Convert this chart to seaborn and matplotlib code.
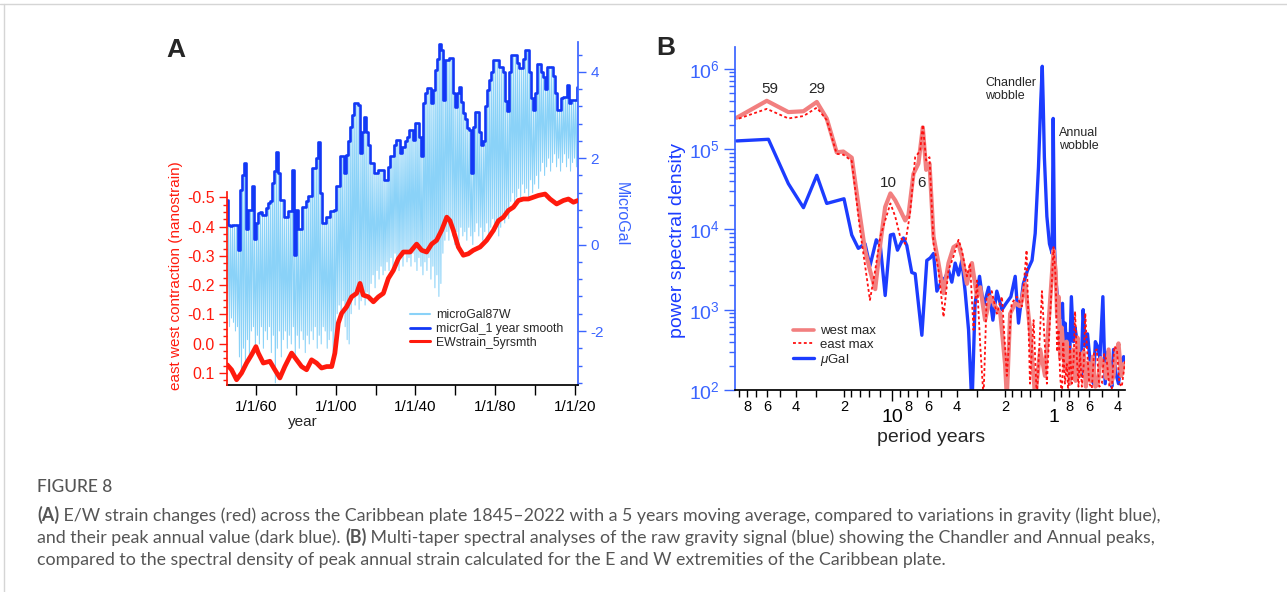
import numpy as np
import matplotlib
matplotlib.use("Agg")
import matplotlib.pyplot as plt
import seaborn as sns
from matplotlib.lines import Line2D
from matplotlib.ticker import FixedLocator, LogLocator, NullFormatter

# ---------------- Panel A data ----------------
gal_years = list(range(1845, 2022))
# annual peak gravity (microGal), dark blue step curve
gal_peak = [
    1.04, 0.45, 0.42, 0.45, 0.46, 0.46, -0.12, 1.27, 1.6, 1.88,
    0.35, 0.81, 0.81, 1.35, 0.12, 0.5, 0.73, 0.75, 0.69, 0.69,
    0.85, 0.96, 1.0, 1.42, 1.7, 2.15, 1.65, 1.04, 1.04, 0.65,
    0.65, 0.77, 0.77, 1.73, -0.23, 0.81, 0.35, 0.35, 0.88, 0.88,
    1.0, 1.12, 1.12, 1.77, 1.77, 2.0, 2.38, 1.19, 0.5, 0.5,
    0.65, 0.65, 0.77, 0.77, 0.81, 1.35, 1.35, 2.04, 2.04, 1.65,
    2.08, 2.4, 2.73, 3.0, 3.27, 3.27, 3.23, 2.12, 2.6, 2.96,
    2.6, 2.31, 1.9, 1.88, 1.65, 1.65, 1.73, 1.73, 1.73, 1.5,
    1.5, 1.8, 2.04, 2.04, 2.3, 2.42, 2.42, 2.12, 2.27, 2.27,
    2.4, 2.5, 2.65, 2.65, 2.42, 2.81, 2.81, 2.5, 2.04, 3.27,
    3.5, 3.62, 3.62, 3.27, 3.58, 4.04, 4.3, 4.65, 4.5, 3.35,
    4.27, 4.27, 4.31, 4.31, 3.5, 3.19, 3.5, 3.65, 3.3, 3.04,
    2.9, 2.7, 2.65, 1.65, 2.73, 3.08, 3.08, 2.6, 2.3, 2.4,
    3.2, 3.58, 3.8, 4.0, 4.27, 4.27, 4.27, 4.1, 4.1, 4.0,
    3.33, 3.1, 4.0, 4.38, 4.38, 4.38, 4.2, 4.08, 4.08, 4.3,
    4.5, 4.5, 4.0, 3.4, 3.12, 3.5, 4.19, 4.19, 4.0, 3.88,
    3.6, 4.12, 4.12, 4.12, 3.9, 3.5, 3.12, 3.12, 3.4, 3.42,
    3.42, 3.7, 3.27, 3.35, 3.35, 3.35, 3.65,
]
# annual trough of raw gravity microGal87W (light blue)
gal_trough = [
    -1.6, -1.9, -1.7, -1.8, -2.0, -1.9, -2.6, -2.9, -2.4, -2.8,
    -2.2, -2.7, -2.0, -1.9, -2.4, -2.1, -2.3, -1.9, -2.4, -2.0,
    -2.2, -1.9, -2.5, -2.1, -3.2, -2.4, -2.0, -2.6, -2.2, -2.0,
    -2.4, -2.1, -2.3, -1.9, -2.6, -2.1, -2.4, -2.0, -2.2, -2.5,
    -2.1, -2.3, -2.0, -2.2, -1.9, -2.4, -2.1, -2.3, -1.9, -2.0,
    -2.4, -2.2, -2.0, -2.6, -2.3, -1.6, -1.4, -1.7, -1.3, -1.9,
    -2.2, -2.3, -1.6, -1.2, -1.4, -1.1, -1.5, -1.3, -1.0, -1.4,
    -1.1, -1.3, -0.9, -0.7, -1.0, -0.6, -0.8, -0.5, -0.7, -0.6,
    -0.4, -0.6, -0.3, -0.5, -0.2, -0.4, -0.6, -0.3, -0.5, -0.2,
    -0.4, -0.3, -0.5, -0.2, -0.4, -0.6, -0.3, -0.5, -0.7, -0.4,
    -0.6, -0.3, -0.8, -0.5, -1.0, -0.7, -1.2, -0.9, -0.2, 0.1,
    0.3, 0.1, 0.4, 0.2, 0.0, 0.3, 0.1, 0.4, 0.2, 0.3,
    0.1, 0.4, 0.2, 0.0, 0.3, 0.5, 0.2, 0.4, 0.1, 0.3,
    0.5, 0.2, 0.4, 0.6, 0.3, 0.5, 0.2, 0.4, 0.7, 0.5,
    0.8, 0.6, 1.0, 1.2, 0.9, 1.1, 1.3, 1.0, 1.4, 1.2,
    1.3, 1.1, 1.5, 1.2, 1.4, 1.6, 1.3, 1.7, 1.9, 1.6,
    1.8, 2.0, 1.7, 1.9, 2.1, 1.8, 2.0, 1.7, 1.9, 2.1,
    1.8, 2.0, 1.7, 1.9, 2.0, 1.8, 2.1,
]
# EW strain, 5-yr smooth (nanostrain)
strain_year = [1845.6, 1847.8, 1850.3, 1852.8, 1855.3, 1857.8, 1860.0, 1861.2, 1863.7, 1867.0,
               1869.5, 1872.0, 1874.5, 1877.9, 1880.4, 1882.9, 1885.4, 1887.9, 1890.4, 1892.9,
               1895.5, 1898.0, 1899.6, 1901.3, 1903.0, 1905.5, 1908.0, 1910.5, 1912.2, 1913.8,
               1916.4, 1918.9, 1921.4, 1923.9, 1926.4, 1928.9, 1931.4, 1933.9, 1937.3, 1940.6,
               1943.1, 1945.6, 1948.1, 1950.6, 1953.1, 1955.7, 1957.3, 1959.0, 1961.5, 1964.0,
               1966.5, 1969.0, 1972.4, 1975.7, 1979.1, 1981.6, 1984.1, 1986.6, 1989.1, 1991.6,
               1994.1, 1996.6, 1999.1, 2001.6, 2005.0, 2007.5, 2010.8, 2014.2, 2016.7, 2019.2, 2021.5]
strain_value = [0.072, 0.089, 0.123, 0.10, 0.066, 0.038, 0.01, 0.032, 0.066, 0.06,
                0.089, 0.117, 0.078, 0.032, 0.055, 0.078, 0.089, 0.055, 0.066, 0.083,
                0.078, 0.078, 0.032, -0.07, -0.104, -0.126, -0.16, -0.172, -0.206, -0.166,
                -0.16, -0.143, -0.16, -0.172, -0.223, -0.25, -0.29, -0.313, -0.313, -0.34,
                -0.319, -0.313, -0.34, -0.353, -0.387, -0.432, -0.42, -0.387, -0.33, -0.302,
                -0.307, -0.319, -0.33, -0.353, -0.387, -0.42, -0.432, -0.455, -0.466, -0.489,
                -0.494, -0.494, -0.5, -0.506, -0.511, -0.494, -0.477, -0.489, -0.494, -0.483, -0.489]

# ---------------- Panel B data ----------------
west_period = [92.7, 60.3, 44.3, 35.7, 29.5, 25.6, 22.2, 20.2, 17.9, 15.9, 14.8, 13.8, 12.8, 11.9, 11.1,
               10.3, 9.62, 8.96, 8.34, 7.96, 7.41, 6.90, 6.48, 6.18, 5.89, 5.56, 5.18, 4.82, 4.49, 4.18,
               3.89, 3.71, 3.45, 3.21, 2.99, 2.85, 2.66, 2.47, 2.30, 2.14, 2.00, 1.95, 1.86, 1.73, 1.61,
               1.50, 1.40, 1.30, 1.21, 1.13, 1.0, 0.97, 0.95, 0.93, 0.91, 0.89, 0.87, 0.85, 0.83,
               0.81, 0.79, 0.77, 0.75, 0.73, 0.71, 0.69, 0.67, 0.65, 0.63, 0.61, 0.59, 0.57, 0.55,
               0.53, 0.51, 0.49, 0.47, 0.455, 0.44, 0.424, 0.41, 0.395, 0.38, 0.367]
west_psd = [2.45e5, 3.98e5, 2.88e5, 2.95e5, 3.85e5, 2.40e5, 9.1e4, 9.3e4, 7.8e4, 1.45e4, 5.5e3, 3.1e3, 1.8e3, 6.6e3, 1.9e4,
            2.8e4, 2.3e4, 1.74e4, 1.29e4, 1.5e4, 4.9e4, 6.6e4, 1.86e5, 5.5e4, 6.6e4, 8.1e3, 3.8e3, 1.6e3, 3.8e3, 6.0e3,
            6.6e3, 4.6e3, 2.1e3, 3.8e3, 1.45e3, 1.9e3, 7.4e2, 1.45e3, 1.1e3, 8.9e2, 2.1e2, 80, 8.9e2, 1.2e3, 1.1e3,
            2.1e3, 5.6e2, 80, 3.2e2, 1.5e2, 5.5e3, 3.0e3, 8.0e2, 1.45e3, 2.5e2, 6.0e2, 3.2e2, 1.8e2, 4.0e2,
            2.1e2, 1.2e2, 3.0e2, 3.2e2, 1.3e2, 4.5e2, 1.5e2, 2.5e2, 3.0e2, 1.1e2, 2.2e2, 1.3e2, 2.6e2, 1.1e2,
            1.2e2, 2.5e2, 2.1e2, 1.4e2, 3.2e2, 1.2e2, 1.5e2, 2.8e2, 3.8e2, 1.5e2, 2.1e2]
east_period = [92.7, 60.3, 44.3, 35.7, 29.5, 25.6, 22.2, 20.2, 17.9, 15.9, 13.8, 12.8, 11.9, 11.1, 10.3,
               9.62, 8.96, 8.34, 7.77, 7.23, 6.73, 6.48, 6.18, 5.89, 5.56, 5.18, 4.82, 4.49, 4.18, 3.89,
               3.71, 3.45, 3.30, 3.14, 2.99, 2.85, 2.72, 2.60, 2.42, 2.25, 2.09, 1.95, 1.82, 1.69, 1.57,
               1.47, 1.40, 1.33, 1.27, 1.18, 1.10, 1.0, 0.97, 0.95, 0.931, 0.91, 0.887, 0.87, 0.85, 0.827,
               0.81, 0.79, 0.770, 0.75, 0.735, 0.717, 0.70, 0.685, 0.667, 0.65, 0.635, 0.621, 0.60, 0.578,
               0.56, 0.539, 0.52, 0.501, 0.485, 0.467, 0.45, 0.434, 0.42, 0.404, 0.39, 0.377, 0.359]
east_psd = [2.34e5, 3.16e5, 2.4e5, 2.57e5, 3.27e5, 2.29e5, 8.7e4, 8.5e4, 7.1e4, 9.8e3, 1.32e3, 3.1e3, 8.1e3, 1.29e4, 2.1e4,
            1.45e4, 8.1e3, 6.6e3, 1.6e4, 7.9e4, 9.5e4, 2.0e5, 7.2e4, 7.9e4, 6.6e3, 3.1e3, 8.1e2, 3.1e3, 4.6e3, 7.4e3,
            5.5e3, 2.6e3, 3.8e3, 5.6e2, 2.3e3, 3.5e2, 80, 1.45e3, 1.7e3, 8.9e2, 1.45e3, 1.5e2, 1.2e3, 1.45e3, 1.1e3,
            5.5e3, 1.2e2, 7.4e2, 80, 1.7e3, 1.2e2, 6.0e3, 2.5e3, 3.0e2, 5.6e2, 1.5e2, 80, 4.0e2, 1.2e2, 2.1e2,
            90, 3.5e2, 1.2e2, 2.4e2, 9.5e2, 2.6e2, 1.1e2, 3.0e2, 1.1e2, 2.0e2, 9.0e2, 3.5e2, 1.2e2, 1.05e2,
            3.0e2, 3.2e2, 1.1e2, 1.2e2, 2.8e2, 2.3e2, 1.1e2, 1.05e2, 3.5e2, 3.2e2, 1.2e2, 1.1e2, 2.3e2]
ugal_period = [92.7, 58.9, 44.3, 35.7, 29.5, 25.6, 20.0, 17.9, 16.3, 14.8, 13.8, 12.6, 11.9, 11.1, 10.3,
               9.86, 9.31, 8.55, 8.15, 7.59, 7.23, 6.57, 6.12, 5.83, 5.56, 5.30, 4.94, 4.71, 4.49, 4.28,
               4.08, 3.89, 3.71, 3.54, 3.37, 3.21, 3.07, 2.88, 2.72, 2.53, 2.38, 2.25, 2.09, 1.97, 1.84,
               1.73, 1.65, 1.54, 1.45, 1.36, 1.30, 1.24, 1.20, 1.175, 1.16, 1.14, 1.10, 1.06, 1.02, 1.005,
               0.986, 0.97, 0.953, 0.93, 0.901, 0.88, 0.865, 0.847, 0.83, 0.815, 0.796, 0.775, 0.752,
               0.735, 0.717, 0.70, 0.676, 0.655, 0.636, 0.615, 0.597, 0.58, 0.565, 0.55, 0.533, 0.515,
               0.494, 0.478, 0.46, 0.445, 0.435, 0.424, 0.41, 0.395, 0.38, 0.367, 0.359]
ugal_psd = [1.26e5, 1.32e5, 3.7e4, 1.86e4, 4.7e4, 2.1e4, 2.4e4, 8.5e3, 5.8e3, 6.6e3, 3.5e3, 7.4e3, 6.3e3, 1.5e3, 8.5e3,
            8.7e3, 5.5e3, 7.8e3, 6.3e3, 2.9e3, 2.8e3, 4.8e2, 4.1e3, 4.4e3, 5.0e3, 1.7e3, 2.3e3, 2.5e3, 3.1e3, 2.2e3,
            3.8e3, 2.7e3, 4.1e3, 1.7e3, 5.6e2, 60, 1.2e3, 2.6e3, 1.1e3, 1.9e3, 7.4e2, 1.7e3, 1.0e3, 1.2e3, 1.45e3,
            2.6e3, 6.8e2, 2.1e3, 3.1e3, 4.1e3, 8.9e3, 6.0e4, 4.0e5, 1.07e6, 4.0e5, 7.9e4, 1.45e4, 6.6e3, 5.0e3, 2.4e5,
            6.0e3, 2.5e3, 1.7e3, 9.0e2, 8.1e2, 1.2e3, 4.0e2, 6.8e2, 3.0e2, 5.0e2, 2.1e2, 1.45e3, 4.0e2,
            6.0e2, 4.2e2, 2.5e2, 1.5e2, 1.0e3, 3.5e2, 5.0e2, 2.6e2, 1.5e2, 1.2e2, 4.0e2, 3.5e2, 2.5e2,
            1.45e3, 1.2e2, 3.0e2, 2.1e2, 1.1e2, 3.2e2, 1.6e2, 1.2e2, 2.2e2, 2.6e2, 2.3e2]

# ---------------- style ----------------
sns.set_theme(style="ticks")
plt.rcParams['font.family'] = ['Liberation Sans', 'DejaVu Sans']
plt.rcParams['mathtext.fontset'] = 'custom'
plt.rcParams['mathtext.rm'] = 'Liberation Sans'
plt.rcParams['mathtext.it'] = 'Liberation Sans:italic'
plt.rcParams['axes.unicode_minus'] = False

W, H = 1287, 592
fig = plt.figure(figsize=(W / 100, H / 100), dpi=100)
fig.patch.set_facecolor('white')


def fx(px):
    return px / W


def fy(py):
    return 1 - py / H


LIGHT = '#8ad2f8'
DARK = '#1238f5'
RED = '#ff1a0d'
AXBLUE = '#3a64ff'

# ---------------- Panel A ----------------
axA = fig.add_axes([fx(227), fy(385), fx(578) - fx(227), fy(42) - fy(385)])
axR = axA.twinx()

years = np.array(gal_years, dtype=float)
zig_x = np.column_stack([years + 0.25, years + 0.75]).ravel()
zig_y = np.column_stack([gal_peak, gal_trough]).ravel()
sns.lineplot(x=zig_x, y=zig_y, ax=axA, color=LIGHT, lw=0.75, sort=False, estimator=None)
step_x = list(years) + [2022.0]
step_y = list(gal_peak) + [gal_peak[-1]]
sns.lineplot(x=step_x, y=step_y, ax=axA, color=DARK, lw=1.9, drawstyle='steps-post', sort=False, estimator=None)
sns.lineplot(x=strain_year, y=strain_value, ax=axR, color=RED, lw=3.4, sort=False, estimator=None)

axA.set_xlim(1845.5, 2021.5)
axA.set_ylim(-3.25, 4.69)
axR.set_ylim(0.141, -1.03)

for sp in ['top', 'left']:
    axA.spines[sp].set_visible(False)
for sp in ['top', 'right', 'bottom']:
    axR.spines[sp].set_visible(False)
axA.spines['right'].set_color(AXBLUE)
axA.spines['bottom'].set_color('black')
axR.spines['left'].set_color(RED)
axR.spines['left'].set_bounds(-0.517, 0.141)

axA.yaxis.tick_right()
axA.set_yticks([-2, 0, 2, 4])
axA.set_yticklabels(['-2', '0', '2', '4'])
axA.yaxis.set_minor_locator(FixedLocator(np.arange(-3.2, 4.7, 0.4)))
axA.tick_params(axis='y', which='both', colors=AXBLUE, direction='out', width=1, labelsize=11)
axA.tick_params(axis='y', which='major', length=6, pad=3)
axA.tick_params(axis='y', which='minor', length=3)

axR.yaxis.tick_left()
rticks = [-0.5, -0.4, -0.3, -0.2, -0.1, 0.0, 0.1]
axR.set_yticks(rticks)
axR.set_yticklabels(['%.1f' % v for v in rticks])
axR.yaxis.set_minor_locator(FixedLocator(np.arange(-0.5, 0.141, 0.025)))
axR.tick_params(axis='y', which='both', colors=RED, direction='out', width=1, labelsize=11.5)
axR.tick_params(axis='y', which='major', length=6, pad=3)
axR.tick_params(axis='y', which='minor', length=3)

axA.set_xticks(list(range(1860, 2021, 20)))
axA.set_xticklabels(['1/1/60', '', '1/1/00', '', '1/1/40', '', '1/1/80', '', '1/1/20'])
axA.tick_params(axis='x', colors='black', direction='out', length=7, width=1, labelsize=11, pad=4)
axA.set_xlabel('')
axA.set_ylabel('')
axR.set_ylabel('')
fig.text(fx(303), fy(422), 'year', fontsize=11, ha='center', va='center')
fig.text(fx(176), fy(276), 'east west contraction (nanostrain)', fontsize=11, color=RED,
         rotation=90, ha='center', va='center')
fig.text(fx(621), fy(214), 'MicroGal', fontsize=11.5, color=AXBLUE, rotation=270, ha='center', va='center')

hA = [Line2D([], [], color=LIGHT, lw=1.5), Line2D([], [], color=DARK, lw=2), Line2D([], [], color=RED, lw=2.2)]
fig.legend(hA, ['microGal87W', 'micrGal_1 year smooth', 'EWstrain_5yrsmth'], loc='upper left',
           bbox_to_anchor=(fx(410), fy(309)), bbox_transform=fig.transFigure, frameon=False,
           fontsize=8.8, handlelength=1.6, handletextpad=0.5, labelspacing=0.15, borderpad=0, borderaxespad=0)

fig.text(fx(166), fy(50), 'A', fontsize=19, fontweight='bold', va='center', ha='left')

# ---------------- Panel B ----------------
axB = fig.add_axes([fx(735), fy(390), fx(1125) - fx(735), fy(47) - fy(390)])
axB.set_xscale('log')
axB.set_yscale('log')
WEST = '#f27f7f'
EAST = '#ff1010'
UGAL = '#1c3cff'
sns.lineplot(x=ugal_period, y=ugal_psd, ax=axB, color=UGAL, lw=2.4, estimator=None)
sns.lineplot(x=west_period, y=west_psd, ax=axB, color=WEST, lw=3.0, estimator=None)
sns.lineplot(x=east_period, y=east_psd, ax=axB, color=EAST, lw=1.3, linestyle=(0, (1.6, 1.4)), estimator=None)
axB.set_xlim(95, 0.36)
axB.set_ylim(100, 1.86e6)
axB.set_xlabel('')
axB.set_ylabel('')

for sp in ['top', 'right']:
    axB.spines[sp].set_visible(False)
axB.spines['left'].set_color(AXBLUE)
axB.spines['bottom'].set_color('black')

axB.yaxis.set_major_locator(FixedLocator([1e2, 1e3, 1e4, 1e5, 1e6]))
axB.set_yticklabels(['$10^{2}$', '$10^{3}$', '$10^{4}$', '$10^{5}$', '$10^{6}$'])
axB.yaxis.set_minor_locator(LogLocator(base=10, subs=np.arange(2, 10), numticks=20))
axB.yaxis.set_minor_formatter(NullFormatter())
axB.tick_params(axis='y', which='both', colors=AXBLUE, direction='out', width=1)
axB.tick_params(axis='y', which='major', length=8, labelsize=14, pad=3)
axB.tick_params(axis='y', which='minor', length=4)

axB.set_xticks([10, 1])
axB.set_xticklabels(['10', '1'])
minor_pos = [90, 80, 70, 60, 50, 40, 30, 20, 18, 16, 14, 12,
             9, 8, 7, 6, 5, 4, 3, 2, 1.8, 1.6, 1.4, 1.2,
             0.9, 0.8, 0.7, 0.6, 0.5, 0.4]
minor_lab = ['', '8', '', '6', '', '4', '', '2', '', '', '', '',
             '', '8', '', '6', '', '4', '', '2', '', '', '', '',
             '', '8', '', '6', '', '4']
axB.set_xticks(minor_pos, minor=True)
axB.set_xticklabels(minor_lab, minor=True)
axB.tick_params(axis='x', which='both', colors='black', direction='out', width=1)
axB.tick_params(axis='x', which='major', length=8, labelsize=14, pad=6)
axB.tick_params(axis='x', which='minor', length=5, labelsize=10.5, pad=2)

fig.text(fx(931), fy(437), 'period years', fontsize=14, ha='center', va='center')
fig.text(fx(678), fy(240), 'power spectral density', fontsize=14, color=UGAL, rotation=90,
         ha='center', va='center')

axB.text(57.5, 5.6e5, '59', fontsize=11, ha='center', va='center')
axB.text(29.4, 5.6e5, '29', fontsize=11, ha='center', va='center')
axB.text(10.6, 3.8e4, '10', fontsize=11, ha='center', va='center')
axB.text(6.6, 3.8e4, '6', fontsize=11, ha='center', va='center')
axB.text(2.65, 7.8e5, 'Chandler\nwobble', fontsize=9, ha='left', va='top', linespacing=1.05)
axB.text(0.923, 1.86e5, 'Annual\nwobble', fontsize=9, ha='left', va='top', linespacing=1.05)

hB = [Line2D([], [], color=WEST, lw=2.6), Line2D([], [], color=EAST, lw=1.3, linestyle=(0, (1.6, 1.4))),
      Line2D([], [], color=UGAL, lw=2.4)]
fig.legend(hB, ['west max', 'east max', '$\\mu$Gal'], loc='upper left',
           bbox_to_anchor=(fx(793), fy(325)), bbox_transform=fig.transFigure, frameon=False,
           fontsize=9.5, handlelength=1.6, handletextpad=0.45, labelspacing=0.08, borderpad=0, borderaxespad=0)

fig.text(fx(656), fy(48), 'B', fontsize=19, fontweight='bold', va='center', ha='left')

# ---------------- frame & caption ----------------
fig.add_artist(Line2D([0, 1], [fy(4), fy(4)], transform=fig.transFigure, color='#d5d5d5', lw=1))
fig.add_artist(Line2D([fx(4), fx(4)], [0, fy(4)], transform=fig.transFigure, color='#d5d5d5', lw=1))

CAP = '#555555'
CAPFONT = ['Lato', 'DejaVu Sans']
renderer = fig.canvas.get_renderer()

line1 = [('(A)', True), (' E/W strain changes (red) across the Caribbean plate 1845\u20132022 with a 5 years moving '
                         'average, compared to variations in gravity (light blue),', False)]
line2 = [('and their peak annual value (dark blue). ', False), ('(B)', True),
         (' Multi-taper spectral analyses of the raw gravity signal (blue) showing the Chandler and Annual peaks,', False)]
line3 = [('compared to the spectral density of peak annual strain calculated for the E and W extremities of the '
          'Caribbean plate.', False)]


def seg_width(segs, size):
    total = 0
    for txt, bold in segs:
        t = fig.text(0, 0, txt, fontsize=size, family=CAPFONT, fontweight='bold' if bold else 'normal')
        total += t.get_window_extent(renderer=renderer).width
        t.remove()
    return total


cap_size = 11 * (1125 / seg_width(line1, 11))


def rich_line(x_px, y_px, segs, size):
    x = x_px
    for txt, bold in segs:
        t = fig.text(fx(x), fy(y_px), txt, fontsize=size, color=CAP, family=CAPFONT,
                     fontweight='bold' if bold else 'normal', va='baseline', ha='left')
        x += t.get_window_extent(renderer=renderer).width


fig.text(fx(37), fy(492), 'FIGURE 8', fontsize=12.5, color=CAP, family=CAPFONT, va='baseline', ha='left',
         fontweight='medium')
rich_line(37, 521, line1, cap_size)
rich_line(37, 543, line2, cap_size)
rich_line(37, 565, line3, cap_size)

fig.savefig('out.png', dpi=100, facecolor='white')
